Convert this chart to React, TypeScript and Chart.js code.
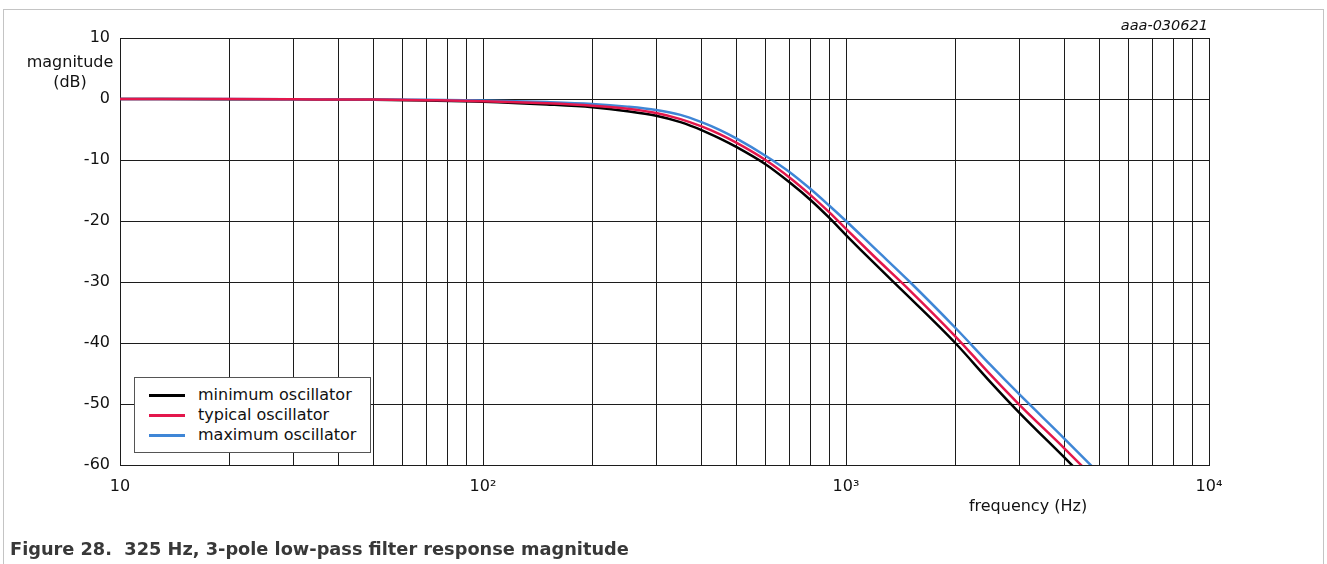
import React, { useEffect, useRef } from 'react';
import { Chart, registerables } from 'chart.js';

Chart.register(...registerables);

// ---- data ----
const frequencies = [10, 20, 30, 50, 70, 100, 150, 200, 250, 300, 350, 400, 450, 500, 600, 700, 800, 900, 1000, 1200, 1500, 2000, 2500, 3000, 4000, 5000];
const minimumDb = [-0.01, -0.03, -0.06, -0.12, -0.25, -0.45, -0.9, -1.35, -2.0, -2.75, -3.8, -5.1, -6.5, -7.9, -10.7, -13.7, -16.6, -19.5, -22.3, -27.0, -32.6, -40.0, -46.4, -51.4, -58.8, -64.6];
const typicalDb = [-0.01, -0.02, -0.05, -0.1, -0.2, -0.35, -0.7, -1.1, -1.6, -2.3, -3.3, -4.5, -5.8, -7.2, -10.0, -12.9, -15.8, -18.6, -21.3, -25.9, -31.4, -38.9, -45.2, -50.1, -57.3, -63.1];
const maximumDb = [0, -0.01, -0.03, -0.07, -0.13, -0.25, -0.5, -0.8, -1.25, -1.8, -2.6, -3.8, -5.1, -6.5, -9.3, -12.0, -14.8, -17.5, -20.0, -24.5, -30.0, -37.5, -43.6, -48.4, -55.7, -61.5];

const seriesNames = ['minimum oscillator', 'typical oscillator', 'maximum oscillator'];
const seriesColors = ['#000000', '#e3174c', '#3f86d6'];
const seriesOrder = [2, 0, 1];

const yMin = -60;
const yMax = 10;
const yStep = 10;
const xDecades = [10, 100, 1000, 10000];
const xDecadeLabels = ['10', '10²', '10³', '10⁴'];

const yTitleLines = ['magnitude', '(dB)'];
const xTitle = 'frequency (Hz)';
const figureCode = 'aaa-030621';
const caption = 'Figure 28.\u00a0\u00a0325 Hz, 3-pole low-pass filter response magnitude';

const FONT = "'DejaVu Sans', sans-serif";
const GRID = '#1c1c1c';

export default function App() {
  const canvasRef = useRef<HTMLCanvasElement | null>(null);

  useEffect(() => {
    const canvas = canvasRef.current;
    if (!canvas) return;
    const seriesValues = [minimumDb, typicalDb, maximumDb];
    const gridValues: number[] = [];
    for (let d = 0; d < xDecades.length - 1; d++) {
      for (let m = 1; m < 10; m++) gridValues.push(xDecades[d] * m);
    }
    gridValues.push(xDecades[xDecades.length - 1]);

    const chart = new Chart(canvas, {
      type: 'line',
      data: {
        datasets: seriesNames.map((name, i) => ({
          label: name,
          data: frequencies.map((f, j) => ({ x: f, y: seriesValues[i][j] })),
          borderColor: seriesColors[i],
          backgroundColor: seriesColors[i],
          borderWidth: 2.5,
          pointRadius: 0,
          cubicInterpolationMode: 'monotone' as const,
          fill: false,
          order: seriesOrder[i],
        })),
      },
      options: {
        animation: false,
        responsive: true,
        maintainAspectRatio: false,
        devicePixelRatio: 1,
        layout: { padding: { left: 0, right: 118, top: 38, bottom: 0 } },
        plugins: { legend: { display: false }, tooltip: { enabled: false }, title: { display: false } },
        events: [],
        scales: {
          x: {
            type: 'logarithmic',
            min: xDecades[0],
            max: xDecades[xDecades.length - 1],
            afterBuildTicks: (scale: any) => {
              scale.ticks = gridValues.map((v) => ({ value: v }));
            },
            afterFit: (scale: any) => {
              scale.height = 99;
            },
            grid: { color: GRID, lineWidth: 1, drawTicks: false },
            border: { color: GRID, width: 1 },
            ticks: {
              autoSkip: false,
              maxRotation: 0,
              minRotation: 0,
              padding: 12,
              color: '#111111',
              font: { family: FONT, size: 16 },
              callback: (value: any) => {
                const idx = xDecades.indexOf(Number(value));
                return idx >= 0 ? xDecadeLabels[idx] : '';
              },
            },
          },
          y: {
            type: 'linear',
            min: yMin,
            max: yMax,
            afterFit: (scale: any) => {
              scale.width = 120;
            },
            grid: { color: GRID, lineWidth: 1, drawTicks: false },
            border: { color: GRID, width: 1 },
            ticks: {
              stepSize: yStep,
              padding: 10,
              color: '#111111',
              font: { family: FONT, size: 16 },
              callback: (value: any) => String(value),
            },
          },
        },
      },
    });
    return () => chart.destroy();
  }, []);

  const legendRowTop = [7, 27, 47];

  return (
    <div style={{ position: 'fixed', left: 0, top: 0, width: 1327, height: 564, overflow: 'hidden', background: '#ffffff', fontFamily: FONT }}>
      <div style={{ position: 'absolute', left: 3, top: 9, width: 1321, height: 600, border: '1px solid #c4c4c4', boxSizing: 'border-box' }} />
      <div style={{ position: 'absolute', left: 0, top: 0, width: 1327, height: 564 }}>
        <canvas ref={canvasRef} style={{ display: 'block' }} />
      </div>
      <div style={{ position: 'absolute', left: 20, top: 51.5, width: 100, textAlign: 'center', fontSize: 16, lineHeight: '20px', color: '#111111' }}>
        {yTitleLines.map((t) => (<div key={t}>{t}</div>))}
      </div>
      <div style={{ position: 'absolute', left: 928, top: 495.5, width: 200, textAlign: 'center', fontSize: 16, lineHeight: '20px', color: '#111111' }}>
        {xTitle}
      </div>
      <div style={{ position: 'absolute', right: 1327 - 1208, top: 16, fontSize: 14.5, lineHeight: '18px', fontStyle: 'italic', color: '#111111', whiteSpace: 'nowrap' }}>
        {figureCode}
      </div>
      <div style={{ position: 'absolute', left: 134, top: 377, width: 237, height: 76, border: '1px solid #555555', boxSizing: 'border-box', background: '#ffffff' }}>
        {seriesNames.map((name, i) => (
          <div key={name} style={{ position: 'absolute', left: 0, top: legendRowTop[i], height: 20, width: 230 }}>
            <div style={{ position: 'absolute', left: 14, top: 9, width: 36, height: 2.5, background: seriesColors[i] }} />
            <div style={{ position: 'absolute', left: 63, top: 0, fontSize: 16, lineHeight: '20px', color: '#111111', whiteSpace: 'nowrap' }}>{name}</div>
          </div>
        ))}
      </div>
      <div style={{ position: 'absolute', left: 10, top: 538, fontSize: 17.75, lineHeight: '22px', fontWeight: 'bold', color: '#383838', whiteSpace: 'nowrap' }}>
        {caption}
      </div>
    </div>
  );
}
